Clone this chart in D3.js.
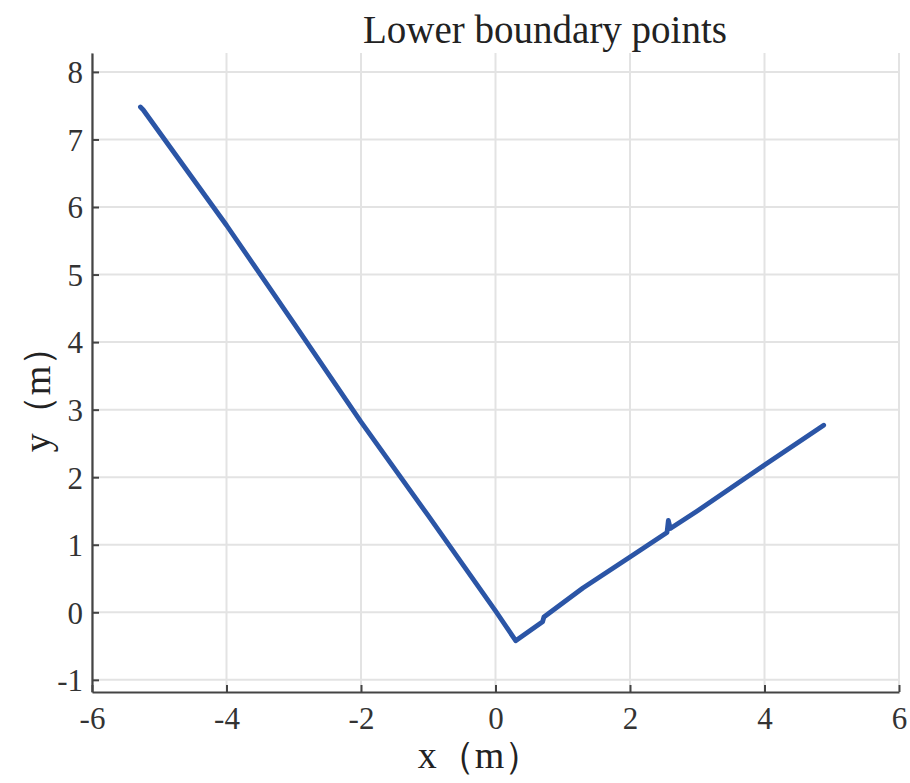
<!DOCTYPE html>
<html>
<head>
<meta charset="utf-8">
<script src="https://cdn.jsdelivr.net/npm/d3@7"></script>
<style>
  body { margin: 0; background: #fff; }
  text { font-family: "Liberation Serif", "Times New Roman", serif; }
</style>
</head>
<body>
<svg id="grafico" width="910" height="783"></svg>
<script>
// pontos da fronteira inferior
var pontosX = [-5.28, -5.24, -4.0, -3.0, -2.0, -1.0, 0.0, 0.30, 0.70, 0.72, 1.30, 2.0, 2.55, 2.57, 2.60, 3.0, 4.0, 4.88];
var pontosY = [7.48, 7.44, 5.73, 4.28, 2.82, 1.43, 0.02, -0.42, -0.14, -0.07, 0.36, 0.82, 1.18, 1.36, 1.24, 1.50, 2.18, 2.77];
var ticksX = [-6, -4, -2, 0, 2, 4, 6];
var ticksY = [-1, 0, 1, 2, 3, 4, 5, 6, 7, 8];
var titulo = "Lower boundary points";
var rotuloX = "x（m）";
var rotuloY = "y（m）";

var svg = d3.select("#grafico");
var esq = 92, dir = 899, topo = 53, base = 692;

var x = d3.scaleLinear().domain([-6, 6]).range([esq, dir]);
var y = d3.scaleLinear().domain([-1.18, 8.28]).range([base, topo]);

// grade
svg.append("g").selectAll("line").data(ticksX).enter().append("line")
    .attr("x1", function(d) { return x(d); }).attr("x2", function(d) { return x(d); })
    .attr("y1", topo).attr("y2", base)
    .attr("stroke", "#e3e3e3").attr("stroke-width", 2);
svg.append("g").selectAll("line").data(ticksY).enter().append("line")
    .attr("x1", esq).attr("x2", dir)
    .attr("y1", function(d) { return y(d); }).attr("y2", function(d) { return y(d); })
    .attr("stroke", "#e3e3e3").attr("stroke-width", 2);

// eixos
var eixoX = svg.append("g").attr("transform", "translate(0," + base + ")")
    .call(d3.axisTop(x).tickValues(ticksX).tickSize(7).tickSizeOuter(0).tickFormat(function(d) { return d; }));
var eixoY = svg.append("g").attr("transform", "translate(" + esq + ",0)")
    .call(d3.axisRight(y).tickValues(ticksY).tickSize(7).tickSizeOuter(0).tickFormat(function(d) { return d; }));

[eixoX, eixoY].forEach(function(e) {
    e.attr("font-size", null).attr("font-family", null);
    e.select(".domain").attr("stroke", "#444").attr("stroke-width", 2.2);
    e.selectAll(".tick line").attr("stroke", "#444").attr("stroke-width", 2);
    e.selectAll(".tick text").attr("fill", "#333").style("font-size", "31px")
        .style("font-family", "'Liberation Serif', serif");
});
eixoX.selectAll(".tick text").attr("y", 37).attr("dy", 0);
eixoY.selectAll(".tick text").attr("x", -9).attr("dy", "0.35em").attr("text-anchor", "end");

// linha dos pontos
var dados = pontosX.map(function(v, i) { return [v, pontosY[i]]; });
var linha = d3.line().x(function(d) { return x(d[0]); }).y(function(d) { return y(d[1]); });
svg.append("path").datum(dados)
    .attr("d", linha)
    .attr("fill", "none")
    .attr("stroke", "#2b55a6")
    .attr("stroke-width", 4.8)
    .attr("stroke-linejoin", "round")
    .attr("stroke-linecap", "round");

// textos
svg.append("text").attr("x", 545).attr("y", 43).attr("text-anchor", "middle")
    .style("font-size", "39px").attr("fill", "#222").text(titulo);
svg.append("text").attr("x", 480).attr("y", 768).attr("text-anchor", "middle")
    .style("font-size", "38px").attr("fill", "#222").text(rotuloX);
svg.append("text").attr("transform", "translate(50,390) rotate(-90)").attr("text-anchor", "middle")
    .style("font-size", "38px").attr("fill", "#222").text(rotuloY);
</script>
</body>
</html>
